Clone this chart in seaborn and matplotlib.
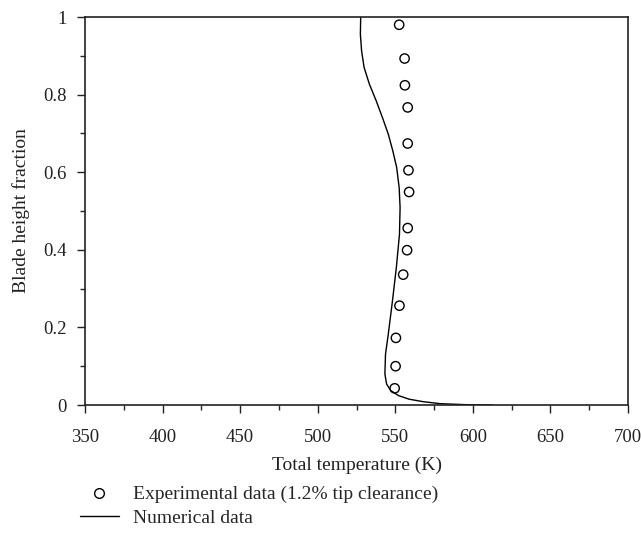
import matplotlib
matplotlib.use("Agg")
import matplotlib.pyplot as plt
import seaborn as sns
import numpy as np
import pandas as pd
from matplotlib.lines import Line2D
from matplotlib.ticker import MultipleLocator

# Experimental data (1.2% tip clearance)
exp_temp = [552.5, 556.0, 556.2, 558.0, 558.0, 558.5, 558.9, 558.0, 557.6, 555.1, 552.7, 550.4, 550.2, 549.6]
exp_height = [0.980, 0.893, 0.824, 0.767, 0.674, 0.605, 0.549, 0.456, 0.399, 0.336, 0.256, 0.173, 0.100, 0.043]

# Numerical data
num_height = [1.0, 0.955, 0.912, 0.870, 0.827, 0.784, 0.741, 0.698, 0.655, 0.612, 0.560, 0.509,
              0.440, 0.355, 0.269, 0.183, 0.131, 0.080, 0.054, 0.037, 0.024, 0.015, 0.0086, 0.0034, 0.001, 0.0]
num_temp = [527.7, 527.5, 528.3, 529.9, 533.3, 537.7, 541.7, 545.5, 548.4, 550.9, 552.5, 553.1,
            552.7, 550.7, 548.2, 545.5, 543.7, 543.3, 544.4, 547.1, 552.2, 558.9, 567.9, 579.0, 594.6, 612.5]

x_ticks = [350, 400, 450, 500, 550, 600, 650, 700]
y_ticks = [0, 0.2, 0.4, 0.6, 0.8, 1]
y_tick_labels = ["0", "0.2", "0.4", "0.6", "0.8", "1"]

sns.set_theme(style="ticks")
plt.rcParams["font.family"] = ["Liberation Serif", "DejaVu Serif"]

fig = plt.figure(figsize=(6.41, 5.37), dpi=100)
ax = fig.add_axes([85/641, 1 - 405/537, 543/641, 388/537])

df_num = pd.DataFrame({"T": num_temp, "h": num_height})
df_exp = pd.DataFrame({"T": exp_temp, "h": exp_height})

sns.lineplot(data=df_num, x="T", y="h", sort=False, estimator=None, color="black", lw=1.0, ax=ax)
sns.scatterplot(data=df_exp, x="T", y="h", marker="o", s=45, facecolor="none",
                edgecolor="black", linewidth=1.0, ax=ax, zorder=3)

ax.set_xlim(350, 700)
ax.set_ylim(0, 1)
ax.set_xticks(x_ticks)
ax.set_yticks(y_ticks)
ax.set_yticklabels(y_tick_labels)
ax.xaxis.set_minor_locator(MultipleLocator(25))
ax.yaxis.set_minor_locator(MultipleLocator(0.1))
ax.tick_params(axis="both", which="major", direction="out", length=6, width=1.0, labelsize=13.5,
               colors="#222222", top=False, right=False)
ax.tick_params(axis="x", which="major", pad=11)
ax.tick_params(axis="y", which="major", pad=7)
ax.tick_params(axis="both", which="minor", direction="out", length=3.5, width=1.0, top=False, right=False)
for s in ax.spines.values():
    s.set_visible(True)
    s.set_color("#222222")
    s.set_linewidth(1.2)

ax.set_xlabel("Total temperature (K)", fontsize=14, color="#222222", labelpad=8)
ax.set_ylabel("Blade height fraction", fontsize=14, color="#222222", labelpad=10)

handles = [
    Line2D([], [], marker="o", linestyle="none", markerfacecolor="none", markeredgecolor="black",
           markersize=7, markeredgewidth=1.0),
    Line2D([], [], color="black", lw=1.0),
]
labels = ["Experimental data (1.2% tip clearance)", "Numerical data"]
fig.legend(handles, labels, loc="upper left", bbox_to_anchor=(72/641, 1 - 478/537), frameon=False,
           fontsize=14, handlelength=2.0, handletextpad=0.75, labelspacing=0.3, borderaxespad=0)

fig.savefig("out.png", dpi=100, facecolor="white")
